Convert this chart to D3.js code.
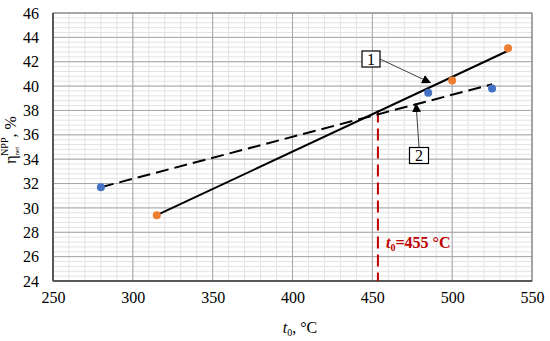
<!DOCTYPE html>
<meta charset="utf-8">
<style>
body { margin: 0; background: #fff; }
text { font-family: "Liberation Serif", "Times New Roman", serif; fill: #000; }
</style>
<svg width="550" height="341"></svg>
<script src="https://d3js.org/d3.v7.min.js"></script>
<script>

// data
var xTicks = [250, 300, 350, 400, 450, 500, 550];
var yTicks = [24, 26, 28, 30, 32, 34, 36, 38, 40, 42, 44, 46];
var bluePts = [[280, 31.7], [485, 39.45], [525, 39.8]];
var orangePts = [[315, 29.4], [500, 40.45], [535, 43.1]];
var line1 = [[315, 29.4], [535, 42.9]];   // solid
var line2 = [[280, 31.7], [525, 40.15]];  // dashed
var tCrit = 453.5, etaCrit = 38;

var svg = d3.select("svg"),
    margin = {top: 13, right: 18, bottom: 60, left: 53},
    width = 550 - margin.left - margin.right,
    height = 341 - margin.top - margin.bottom,
    g = svg.append("g").attr("transform", "translate(" + margin.left + "," + margin.top + ")");

var x = d3.scaleLinear().domain([250, 550]).range([0, width]);
var y = d3.scaleLinear().domain([24, 46]).range([height, 0]);

// minor grid
g.append("g").selectAll("line")
  .data(d3.range(250, 551, 10))
  .enter().append("line")
    .attr("x1", function(d) { return x(d); }).attr("x2", function(d) { return x(d); })
    .attr("y1", 0).attr("y2", height)
    .attr("stroke", "#e3e3e3").attr("stroke-width", 1);
g.append("g").selectAll("line")
  .data(d3.range(0, 55).map(function(i) { return 24 + i * 0.4; }))
  .enter().append("line")
    .attr("y1", function(d) { return y(d); }).attr("y2", function(d) { return y(d); })
    .attr("x1", 0).attr("x2", width)
    .attr("stroke", "#e3e3e3").attr("stroke-width", 1);

// major grid
g.append("g").selectAll("line")
  .data(xTicks)
  .enter().append("line")
    .attr("x1", function(d) { return x(d); }).attr("x2", function(d) { return x(d); })
    .attr("y1", 0).attr("y2", height)
    .attr("stroke", "#a6a6a6").attr("stroke-width", 1);
g.append("g").selectAll("line")
  .data(yTicks)
  .enter().append("line")
    .attr("y1", function(d) { return y(d); }).attr("y2", function(d) { return y(d); })
    .attr("x1", 0).attr("x2", width)
    .attr("stroke", "#a6a6a6").attr("stroke-width", 1);

// frame
g.append("rect")
    .attr("width", width).attr("height", height)
    .attr("fill", "none").attr("stroke", "#7f7f7f");
g.append("line").attr("x1", 0).attr("x2", 0).attr("y1", 0).attr("y2", height)
    .attr("stroke", "#404040").attr("stroke-width", 1.5);
g.append("line").attr("x1", 0).attr("x2", width).attr("y1", height).attr("y2", height)
    .attr("stroke", "#404040").attr("stroke-width", 1.5);

// axes (labels only)
var xAxis = g.append("g")
    .attr("transform", "translate(0," + height + ")")
    .call(d3.axisBottom(x).tickValues(xTicks).tickSize(0).tickPadding(11));
var yAxis = g.append("g")
    .call(d3.axisLeft(y).tickValues(yTicks).tickSize(0).tickPadding(14));
xAxis.select(".domain").remove();
yAxis.select(".domain").remove();
svg.selectAll(".tick text").attr("font-size", 16).attr("font-family", "Liberation Serif").attr("fill", "#000");

// red vertical
g.append("line")
    .attr("x1", x(tCrit)).attr("x2", x(tCrit))
    .attr("y1", y(etaCrit)).attr("y2", height)
    .attr("stroke", "#c00000").attr("stroke-width", 2)
    .attr("stroke-dasharray", "12,6");

var lineGen = d3.line().x(function(d) { return x(d[0]); }).y(function(d) { return y(d[1]); });

g.append("path").datum(line2).attr("d", lineGen)
    .attr("fill", "none").attr("stroke", "#000").attr("stroke-width", 2)
    .attr("stroke-dasharray", "13,6");
g.append("path").datum(line1).attr("d", lineGen)
    .attr("fill", "none").attr("stroke", "#000").attr("stroke-width", 2);

g.selectAll(".blue").data(bluePts).enter().append("circle")
    .attr("cx", function(d) { return x(d[0]); }).attr("cy", function(d) { return y(d[1]); })
    .attr("r", 4).attr("fill", "#4472c4");
g.selectAll(".orange").data(orangePts).enter().append("circle")
    .attr("cx", function(d) { return x(d[0]); }).attr("cy", function(d) { return y(d[1]); })
    .attr("r", 4).attr("fill", "#ed7d31");

// callouts
var defs = svg.append("defs");
defs.append("marker").attr("id", "arr")
    .attr("viewBox", "0 0 10 10").attr("refX", 10).attr("refY", 5)
    .attr("markerWidth", 9).attr("markerHeight", 9).attr("orient", "auto")
    .attr("markerUnits", "userSpaceOnUse")
  .append("path").attr("d", "M0,0L10,5L0,10z").attr("fill", "#000");

svg.append("line").attr("x1", 380).attr("y1", 59).attr("x2", 431).attr("y2", 83)
    .attr("stroke", "#404040").attr("stroke-width", 1).attr("marker-end", "url(#arr)");
svg.append("line").attr("x1", 419).attr("y1", 147).attr("x2", 416).attr("y2", 103)
    .attr("stroke", "#404040").attr("stroke-width", 1).attr("marker-end", "url(#arr)");

svg.append("rect").attr("x", 362).attr("y", 51).attr("width", 18).attr("height", 16)
    .attr("fill", "#fff").attr("stroke", "#000").attr("stroke-width", 1.2);
svg.append("text").attr("x", 371).attr("y", 64.5).attr("text-anchor", "middle")
    .attr("font-size", 16).text("1");
svg.append("rect").attr("x", 409.5).attr("y", 147.5).attr("width", 19).attr("height", 16)
    .attr("fill", "#fff").attr("stroke", "#000").attr("stroke-width", 1.2);
svg.append("text").attr("x", 419).attr("y", 161).attr("text-anchor", "middle")
    .attr("font-size", 16).text("2");

// red label
var rl = svg.append("text").attr("x", 386).attr("y", 248)
    .attr("font-size", 16).attr("font-weight", "bold").style("fill", "#c00000");
rl.append("tspan").attr("font-style", "italic").style("fill", "#c00000").text("t");
rl.append("tspan").attr("dy", 3).attr("font-size", 10).style("fill", "#c00000").text("0");
rl.append("tspan").attr("dy", -3).style("fill", "#c00000").text("=455 °C");

// x title
var xt = svg.append("text").attr("x", 300).attr("y", 333).attr("text-anchor", "middle")
    .attr("font-size", 16);
xt.append("tspan").attr("font-style", "italic").text("t");
xt.append("tspan").attr("dy", 3).attr("font-size", 10).text("0");
xt.append("tspan").attr("dy", -3).text(", °C");

// y title
var yt = svg.append("text").attr("transform", "translate(16,140) rotate(-90)")
    .attr("text-anchor", "middle").attr("font-size", 16);
yt.append("tspan").text("η");
yt.append("tspan").attr("dy", 3).attr("font-size", 7).text("net");
yt.append("tspan").attr("dy", -11).attr("dx", -9).attr("font-size", 10).text("NPP");
yt.append("tspan").attr("dy", 8).text(", %");

</script>
